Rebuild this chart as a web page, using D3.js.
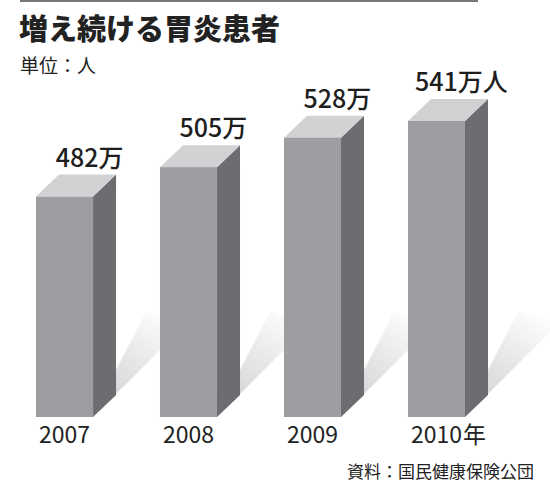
<!DOCTYPE html>
<html>
<head>
<meta charset="utf-8">
<script src="https://cdn.jsdelivr.net/npm/d3@7"></script>
<style>
  body { margin: 0; background: #fff; }
  svg { display: block; font-family: "Noto Sans CJK JP", "Noto Sans", sans-serif; }
</style>
</head>
<body>
<svg id="chart" width="550" height="493"></svg>
<script>
const years = ["2007", "2008", "2009", "2010"];
const patients = [482, 505, 528, 541];
const valueLabels = ["482万", "505万", "528万", "541万人"];
const yearSuffix = ["", "", "", "年"];

const BOTTOM = 417;
const DEPTH_X = 23;
const DEPTH_Y = 22;

const svg = d3.select("#chart");

const x = d3.scaleBand().domain(years).range([36, 465]).paddingInner(0.54).paddingOuter(0);
const y = d3.scaleLinear().domain([310, 541]).range([BOTTOM, 121]);

const data = years.map((year, i) => ({
  year,
  value: patients[i],
  label: valueLabels[i],
  suffix: yearSuffix[i],
}));

const defs = svg.append("defs");

// one gradient per bar, in user space, running from the bar foot to the upper right
data.forEach((d, i) => {
  const fr = x(d.year) + x.bandwidth();
  const grad = defs
    .append("linearGradient")
    .attr("id", `shadow-grad-${i}`)
    .attr("gradientUnits", "userSpaceOnUse")
    .attr("x1", fr + 5).attr("y1", BOTTOM - 5)
    .attr("x2", fr + 70).attr("y2", BOTTOM - 110);
  grad.append("stop").attr("offset", 0).attr("stop-color", "#cfcfd1");
  grad.append("stop").attr("offset", 0.5).attr("stop-color", "#e6e6e7");
  grad.append("stop").attr("offset", 1).attr("stop-color", "#ffffff");
});

// top rule
svg.append("line")
  .attr("x1", 20).attr("x2", 478)
  .attr("y1", 1).attr("y2", 1)
  .attr("stroke", "#4a4a4a")
  .attr("stroke-width", 1.6);

svg.append("text")
  .attr("x", 19).attr("y", 40)
  .attr("font-size", 29)
  .attr("font-weight", 900)
  .attr("fill", "#222")
  .text("増え続ける胃炎患者");

svg.append("text")
  .attr("x", 20).attr("y", 73)
  .attr("font-size", 19)
  .attr("fill", "#222")
  .text("単位：人");

// shadows behind bars
svg.append("g")
  .selectAll("polygon.shadow")
  .data(data)
  .join("polygon")
  .attr("class", "shadow")
  .attr("fill", (d, i) => `url(#shadow-grad-${i})`)
  .attr("points", (d) => {
    const fr = x(d.year) + x.bandwidth();
    const br = fr + DEPTH_X;
    const bb = BOTTOM - DEPTH_Y;
    return [
      [fr, BOTTOM],
      [br, bb],
      [br, bb - 25],
      [br + 30, BOTTOM - 105],
      [fr + 95, BOTTOM - 95],
    ].map((p) => p.join(",")).join(" ");
  });

const bars = svg
  .selectAll("g.bar")
  .data(data)
  .join("g")
  .attr("class", "bar");

// side face
bars.append("polygon")
  .attr("fill", "#6c6d71")
  .attr("points", (d) => {
    const fr = x(d.year) + x.bandwidth();
    const top = y(d.value);
    return [
      [fr, top],
      [fr + DEPTH_X, top - DEPTH_Y],
      [fr + DEPTH_X, BOTTOM - DEPTH_Y],
      [fr, BOTTOM],
    ].map((p) => p.join(",")).join(" ");
  });

// top face
bars.append("polygon")
  .attr("fill", "#d1d2d4")
  .attr("points", (d) => {
    const fl = x(d.year);
    const fr = fl + x.bandwidth();
    const top = y(d.value);
    return [
      [fl, top],
      [fl + DEPTH_X, top - DEPTH_Y],
      [fr + DEPTH_X, top - DEPTH_Y],
      [fr, top],
    ].map((p) => p.join(",")).join(" ");
  });

// front face
bars.append("rect")
  .attr("x", (d) => x(d.year))
  .attr("y", (d) => y(d.value))
  .attr("width", x.bandwidth())
  .attr("height", (d) => BOTTOM - y(d.value))
  .attr("fill", "#9d9ea2");

// value labels, centred over the back edge of the top face
bars.append("text")
  .attr("x", (d) => x(d.year) + DEPTH_X + x.bandwidth() / 2 + 2)
  .attr("y", (d) => y(d.value) - DEPTH_Y - 8)
  .attr("text-anchor", "middle")
  .attr("font-size", 25)
  .attr("font-weight", 500)
  .attr("fill", "#1e1e1e")
  .text((d) => d.label);

// year labels: number centred under the front face, suffix trailing
bars.each(function addYear(d) {
  const g = d3.select(this);
  const cx = x(d.year) + x.bandwidth() / 2;
  const num = g.append("text")
    .attr("x", cx)
    .attr("y", 443)
    .attr("text-anchor", "middle")
    .attr("font-size", 23)
    .attr("fill", "#222")
    .text(d.year);
  if (d.suffix) {
    const w = num.node().getComputedTextLength();
    g.append("text")
      .attr("x", cx + w / 2 + 1)
      .attr("y", 443)
      .attr("font-size", 23)
      .attr("fill", "#222")
      .text(d.suffix);
  }
});

svg.append("text")
  .attr("x", 534).attr("y", 478)
  .attr("text-anchor", "end")
  .attr("font-size", 17)
  .attr("fill", "#222")
  .text("資料：国民健康保険公団");
</script>
</body>
</html>
